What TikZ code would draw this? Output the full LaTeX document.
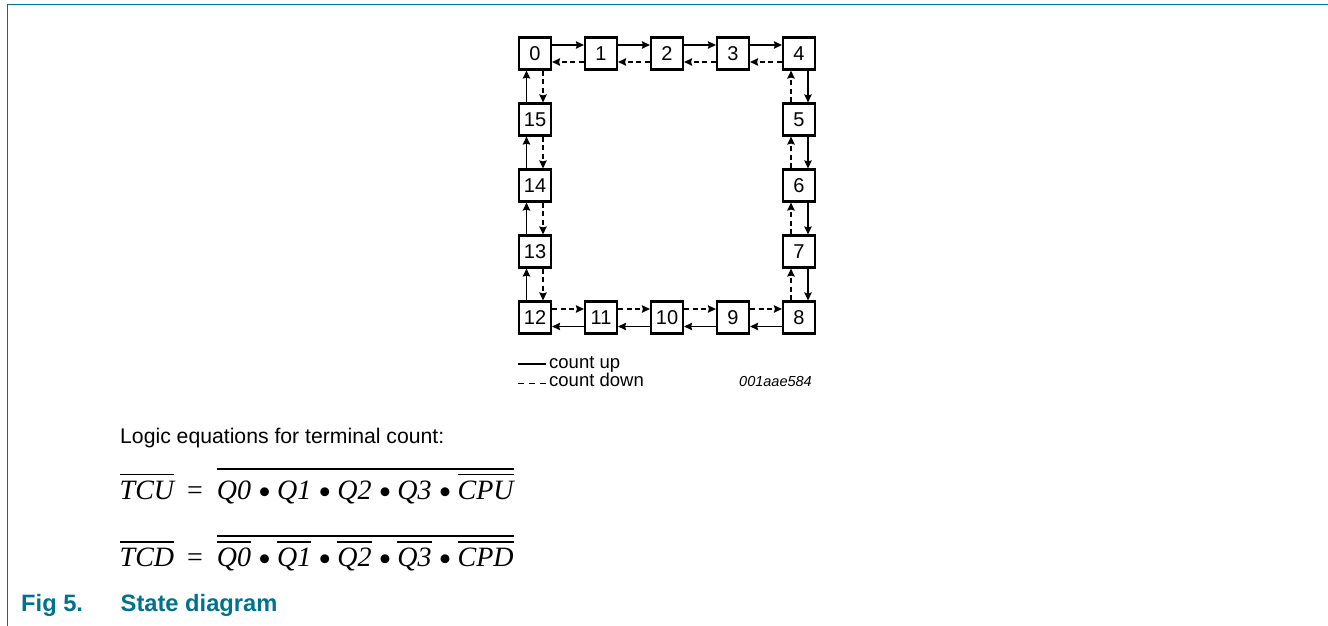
\documentclass[tikz,border=0pt]{standalone}
\usepackage{fontspec}
\setmainfont{Liberation Sans}
\newfontfamily\eqfont{Liberation Serif}
\usetikzlibrary{arrows.meta}
\definecolor{nxpteal}{RGB}{0,114,140}
\newcommand\ovl[2][5pt]{\vbox{\hrule height 1.7pt\kern#1\hbox{#2}}}
\newcommand\bul{\hspace{7pt}\raisebox{-5pt}{\eqfont\upshape\fontsize{37}{37}\selectfont •}\hspace{6pt}}
\begin{document}
\begin{tikzpicture}[x=1pt,y=-1pt,
  stbox/.style={draw, line width=2.2pt, minimum size=32pt, inner sep=0pt, font=\fontsize{20}{22}\selectfont},
  cup/.style={line width=1.1pt, -{Stealth[length=8pt,width=7.5pt,inset=1pt]}},
  cdown/.style={cup, dash pattern=on 5pt off 3.5pt},
  txt/.style={inner sep=0pt, anchor=base west},
  eq/.style={txt, font=\eqfont\itshape\fontsize{28}{32}\selectfont}]
\useasboundingbox (0,0) rectangle (1328,626);
\draw[nxpteal, line width=1.5pt] (7.5,626) -- (7.5,4.5) -- (1328,4.5);
% states
\node[stbox] (s0) at (535,53.5) {0};
\node[stbox] (s1) at (601,53.5) {1};
\node[stbox] (s2) at (667,53.5) {2};
\node[stbox] (s3) at (733,53.5) {3};
\node[stbox] (s4) at (799,53.5) {4};
\node[stbox] (s5) at (799,119.5) {5};
\node[stbox] (s6) at (799,185.5) {6};
\node[stbox] (s7) at (799,251.5) {7};
\node[stbox] (s8) at (799,317.5) {8};
\node[stbox] (s9) at (733,317.5) {9};
\node[stbox] (s10) at (667,317.5) {10};
\node[stbox] (s11) at (601,317.5) {11};
\node[stbox] (s12) at (535,317.5) {12};
\node[stbox] (s13) at (535,251.5) {13};
\node[stbox] (s14) at (535,185.5) {14};
\node[stbox] (s15) at (535,119.5) {15};
% top row
\foreach \a/\b in {s0/s1,s1/s2,s2/s3,s3/s4}{
  \draw[cup] ([yshift=8.5pt]\a.east) -- ([yshift=8.5pt]\b.west);
  \draw[cdown] ([yshift=-8.5pt]\b.west) -- ([yshift=-8.5pt]\a.east);
}
% right column
\foreach \a/\b in {s4/s5,s5/s6,s6/s7,s7/s8}{
  \draw[cup] ([xshift=9pt]\a.south) -- ([xshift=9pt]\b.north);
  \draw[cdown] ([xshift=-8pt]\b.north) -- ([xshift=-8pt]\a.south);
}
% bottom row
\foreach \a/\b in {s8/s9,s9/s10,s10/s11,s11/s12}{
  \draw[cup] ([yshift=-9pt]\a.west) -- ([yshift=-9pt]\b.east);
  \draw[cdown] ([yshift=8.5pt]\b.east) -- ([yshift=8.5pt]\a.west);
}
% left column
\foreach \a/\b in {s12/s13,s13/s14,s14/s15,s15/s0}{
  \draw[cup] ([xshift=-8.5pt]\a.north) -- ([xshift=-8.5pt]\b.south);
  \draw[cdown] ([xshift=8pt]\b.south) -- ([xshift=8pt]\a.north);
}
% legend
\coordinate (lu1) at (518,364);
\coordinate (lu2) at (546,364);
\coordinate (ld1) at (518,383.5);
\coordinate (ld2) at (546,383.5);
\draw[line width=1.1pt] (lu1) -- (lu2);
\draw[line width=1.1pt, dash pattern=on 6pt off 5pt] (ld1) -- (ld2);
\node[txt, font=\fontsize{18.5}{20}\selectfont] (lup) at (549,368.5) {count up};
\node[txt, font=\fontsize{18.5}{20}\selectfont] (ldown) at (549,386.5) {count down};
\node[inner sep=0pt, anchor=base east, font=\itshape\fontsize{14.5}{16}\selectfont] (code) at (812,386.5) {001aae584};
% equations
\node[txt, font=\fontsize{21.2}{24}\selectfont] (logic) at (120,443) {Logic equations for terminal count:};
\node[eq] (tcu) at (119.5,499) {\ovl{TCU}\hspace{13pt}{\upshape =}\hspace{14pt}\ovl[4pt]{Q0\bul Q1\bul Q2\bul Q3\bul\ovl{CPU}}};
\node[eq] (tcd) at (119.5,566.5) {\ovl{TCD}\hspace{13pt}{\upshape =}\hspace{14pt}\ovl[4pt]{\ovl{Q0}\bul\ovl{Q1}\bul\ovl{Q2}\bul\ovl{Q3}\bul\ovl{CPD}}};
% caption
\node[txt, font=\bfseries\fontsize{23.7}{26}\selectfont, text=nxpteal] (fig) at (21,611) {Fig 5.};
\node[txt, font=\bfseries\fontsize{23.7}{26}\selectfont, text=nxpteal] (figt) at (120.5,611) {State diagram};
\end{tikzpicture}
\end{document}
